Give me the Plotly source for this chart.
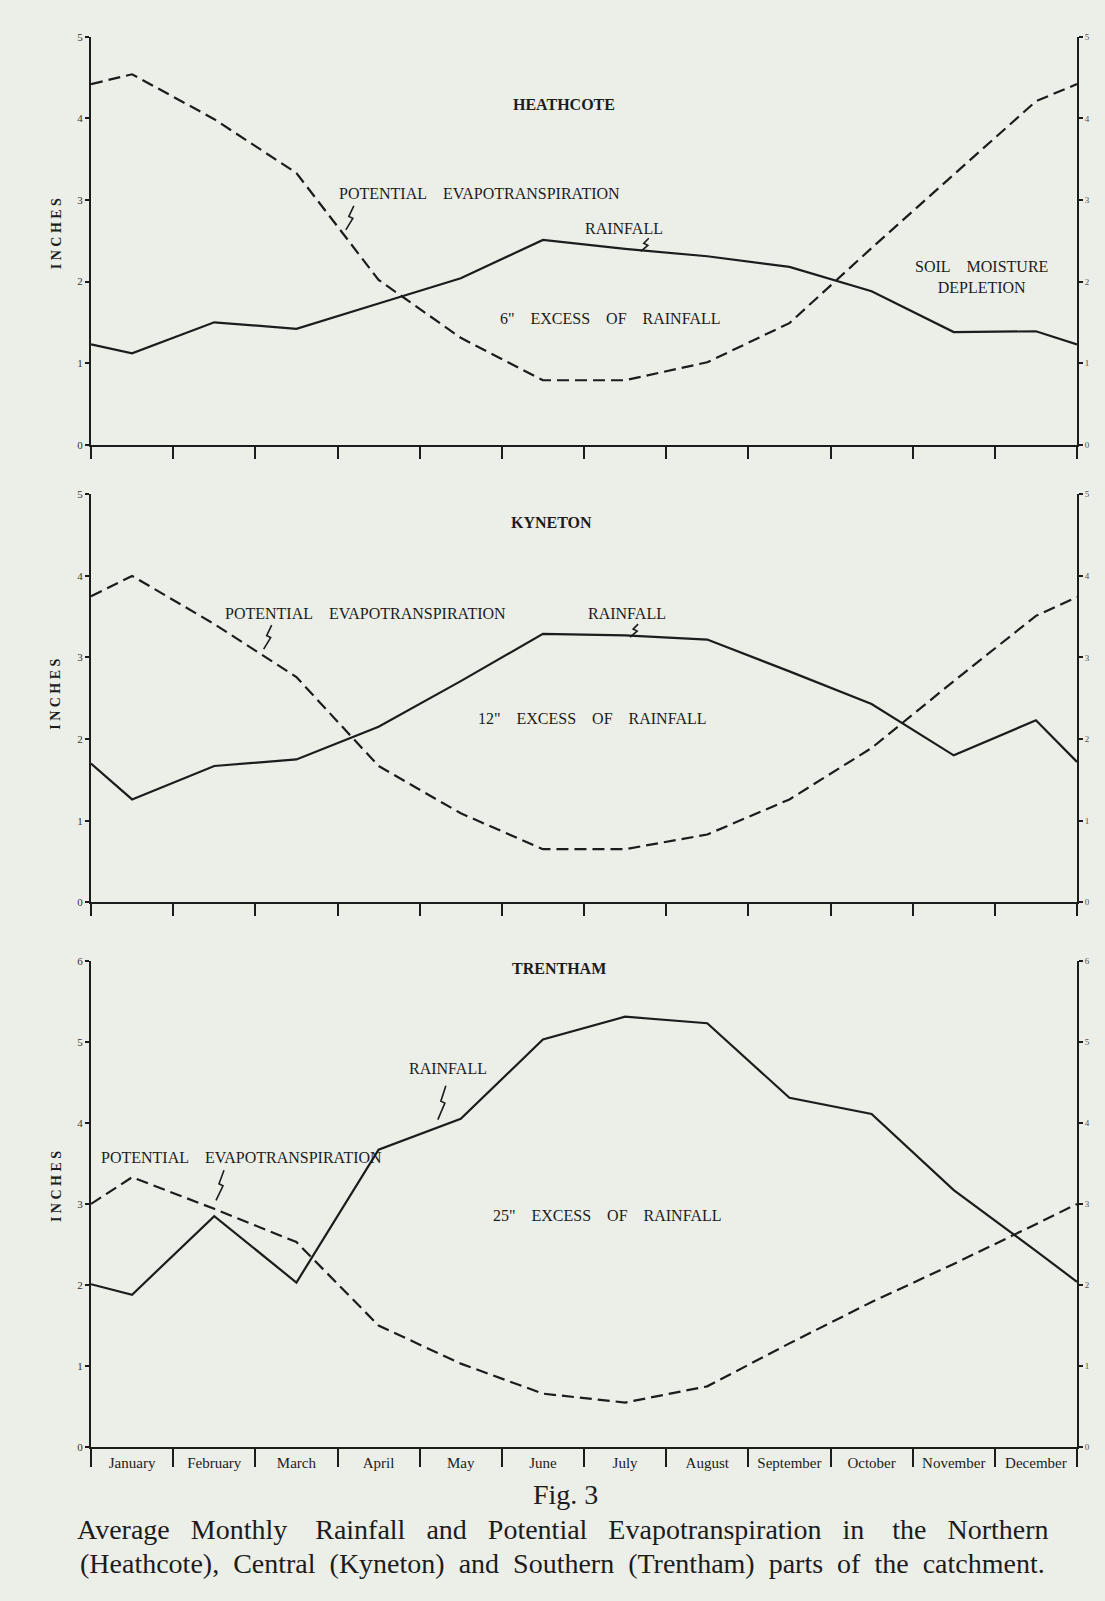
import plotly.graph_objects as go

# ---------------- data (inches) ----------------
months = ["January", "February", "March", "April", "May", "June", "July",
          "August", "September", "October", "November", "December"]

# monthly values plotted at mid-month; edge values are the curve ends at 1 Jan / 31 Dec
heathcote_rain = [1.12, 1.50, 1.42, 1.73, 2.04, 2.51, 2.40, 2.31, 2.18, 1.88, 1.38, 1.39]
heathcote_rain_edges = [1.23, 1.23]
heathcote_pet = [4.54, 3.99, 3.33, 2.02, 1.31, 0.79, 0.79, 1.01, 1.49, 2.41, 3.31, 4.21]
heathcote_pet_edges = [4.42, 4.42]

kyneton_rain = [1.26, 1.67, 1.75, 2.15, 2.71, 3.29, 3.27, 3.22, 2.83, 2.43, 1.80, 2.23]
kyneton_rain_edges = [1.70, 1.72]
kyneton_pet = [4.00, 3.41, 2.76, 1.67, 1.09, 0.65, 0.65, 0.83, 1.26, 1.89, 2.71, 3.51]
kyneton_pet_edges = [3.75, 3.74]

trentham_rain = [1.88, 2.85, 2.03, 3.67, 4.05, 5.03, 5.31, 5.23, 4.31, 4.11, 3.17, 2.42]
trentham_rain_edges = [2.01, 2.04]
trentham_pet = [3.33, 2.94, 2.53, 1.50, 1.03, 0.66, 0.55, 0.75, 1.28, 1.79, 2.26, 2.75]
trentham_pet_edges = [3.00, 3.00]

y_max = [5, 5, 6]
excess_labels = ['6"  EXCESS  OF  RAINFALL', '12"  EXCESS  OF  RAINFALL', '25"  EXCESS  OF  RAINFALL']
stations = ["HEATHCOTE", "KYNETON", "TRENTHAM"]

# ---------------- styling ----------------
W, H = 1105, 1601
BG = "#eceee8"
INK = "#1c1c1c"
SERIF = "Liberation Serif, Times New Roman, serif"

X0, X1 = 91 / W, 1077 / W
# (y of zero, y of max) in page pixels
panel_px = [(442, 31), (903, 492), (1452, 962)]


def pp(y):
    return 1 - y / H


x_pos = [0] + [i + 0.5 for i in range(12)] + [12]

fig = go.Figure()

series = [
    (heathcote_rain, heathcote_rain_edges, heathcote_pet, heathcote_pet_edges),
    (kyneton_rain, kyneton_rain_edges, kyneton_pet, kyneton_pet_edges),
    (trentham_rain, trentham_rain_edges, trentham_pet, trentham_pet_edges),
]

layout = dict(
    width=W, height=H, margin=dict(l=0, r=0, t=0, b=0),
    paper_bgcolor=BG, plot_bgcolor=BG, showlegend=False,
    font=dict(family=SERIF, color=INK),
)

for i, (rain, rain_e, pet, pet_e) in enumerate(series):
    xa = "x" if i == 0 else f"x{i+1}"
    yl = "y" if i == 0 else f"y{2*i+1}"
    yr = f"y{2*i+2}"
    fig.add_trace(go.Scatter(
        x=x_pos, y=[rain_e[0]] + rain + [rain_e[1]], xaxis=xa, yaxis=yl,
        mode="lines", line=dict(color=INK, width=2.2), name="Rainfall"))
    fig.add_trace(go.Scatter(
        x=x_pos, y=[pet_e[0]] + pet + [pet_e[1]], xaxis=xa, yaxis=yr,
        mode="lines", line=dict(color=INK, width=2.2, dash="12px,6px"),
        name="Potential evapotranspiration"))

    y0p, y1p = panel_px[i]
    dom = [pp(y0p), pp(y1p)]
    xkey = "xaxis" if i == 0 else f"xaxis{i+1}"
    ylkey = "yaxis" if i == 0 else f"yaxis{2*i+1}"
    yrkey = f"yaxis{2*i+2}"

    xcfg = dict(domain=[X0, X1], anchor=yl, range=[0, 12], showline=True,
                linecolor=INK, linewidth=2, showgrid=False, zeroline=False,
                fixedrange=True)
    if i < 2:
        xcfg.update(ticks="outside", tickvals=list(range(13)), ticklen=12,
                    tickwidth=2, tickcolor=INK, showticklabels=False)
    else:
        xcfg.update(tickvals=[m + 0.5 for m in range(12)], ticktext=months,
                    ticks="", ticklabelstandoff=1,
                    tickfont=dict(size=15, family=SERIF, color=INK),
                    minor=dict(tickvals=list(range(13)), ticks="outside",
                               ticklen=18, tickwidth=2, tickcolor=INK))
    layout[xkey] = xcfg

    ycommon = dict(domain=dom, range=[0, y_max[i]], showline=True,
                   linecolor=INK, linewidth=2, showgrid=False, zeroline=False,
                   ticks="outside", ticklen=4, tickwidth=1.5, tickcolor=INK,
                   tickvals=list(range(y_max[i] + 1)), fixedrange=True)
    layout[ylkey] = dict(ycommon, anchor=xa, side="left", ticklabelstandoff=0,
                         tickfont=dict(size=11, family=SERIF, color="#333"))
    layout[yrkey] = dict(ycommon, anchor=xa, side="right", overlaying=yl,
                         tickfont=dict(size=9, family=SERIF, color="#555"))

fig.update_layout(**layout)

ann = []
shapes = []


def refs(i):
    return ("x" if i == 0 else f"x{i+1}"), ("y" if i == 0 else f"y{2*i+1}")


def label(i, m, v, text, size=16, bold=False):
    xa, yl = refs(i)
    t = f"<b>{text}</b>" if bold else text
    ann.append(dict(x=m, y=v, xref=xa, yref=yl, text=t, showarrow=False,
                    xanchor="center", yanchor="middle",
                    font=dict(size=size, family=SERIF, color=INK)))


def bolt(i, m, v, h):
    # small zig-zag pointer linking a label to its curve (pixel-sized shape)
    xa, yl = refs(i)
    hh = h / 2
    path = f"M 4,{hh} L -1,1.5 L 3,-0.5 L -4,{-hh}"
    shapes.append(dict(type="path", xref=xa, yref=yl, xsizemode="pixel",
                       ysizemode="pixel", xanchor=m, yanchor=v, path=path,
                       line=dict(color=INK, width=1.6)))


NB = "\u00a0"
pet_lbl = f"POTENTIAL{NB*4}EVAPOTRANSPIRATION"
gap = NB * 4

# Heathcote
label(0, 5.76, 4.17, stations[0], bold=True)
label(0, 4.73, 3.08, pet_lbl)
bolt(0, 3.15, 2.78, 24)
label(0, 6.49, 2.65, "RAINFALL")
bolt(0, 6.74, 2.45, 13)
label(0, 6.32, 1.55, excess_labels[0].replace("  ", gap))
label(0, 10.84, 2.05, f"SOIL{gap}MOISTURE<br>DEPLETION")
# Kyneton
label(1, 5.61, 4.66, stations[1], bold=True)
label(1, 3.34, 3.54, pet_lbl)
bolt(1, 2.15, 3.25, 24)
label(1, 6.52, 3.54, "RAINFALL")
bolt(1, 6.61, 3.33, 13)
label(1, 6.10, 2.25, excess_labels[1].replace("  ", gap))
# Trentham
label(2, 5.70, 5.90, stations[2], bold=True)
label(2, 4.35, 4.67, "RAINFALL")
bolt(2, 4.27, 4.25, 34)
label(2, 1.83, 3.57, pet_lbl)
bolt(2, 1.57, 3.23, 30)
label(2, 6.28, 2.86, excess_labels[2].replace("  ", gap))


def page_text(x, y, text, size, angle=0):
    ann.append(dict(x=x / W, y=pp(y), xref="paper", yref="paper", text=text,
                    textangle=angle, showarrow=False, xanchor="center",
                    yanchor="middle", font=dict(size=size, family=SERIF, color=INK)))


for yc in (230, 694, 1190):
    page_text(56, yc, "<b>I N C H E S</b>", 14, angle=-90)

page_text(565, 1500, "Fig. 3", 28)
line1 = "Average Monthly  Rainfall and Potential Evapotranspiration in  the Northern"
line2 = "(Heathcote), Central (Kyneton) and Southern (Trentham) parts of the catchment."
page_text(562, 1535, line1.replace("  ", "\t").replace(" ", NB * 3).replace("\t", NB * 4), 28)
page_text(562, 1569, line2.replace(" ", NB * 2), 28)

fig.update_layout(annotations=ann, shapes=shapes)
fig.write_html("out.html", config={"displayModeBar": False},
               post_script="document.body.style.margin='0px';")
